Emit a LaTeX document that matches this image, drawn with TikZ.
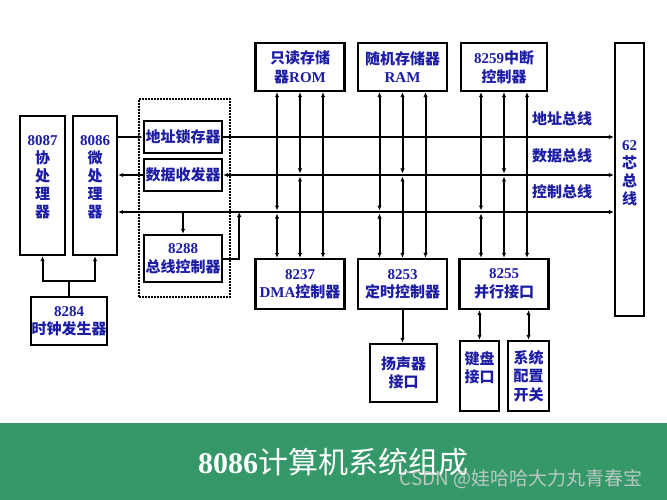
\documentclass[tikz,border=0pt]{standalone}
\usepackage{fontspec}
\setmainfont{Noto Sans CJK SC}
\newfontfamily\lat{Liberation Serif}
\usetikzlibrary{arrows.meta,calc}
\definecolor{txtblue}{RGB}{28,28,165}
\definecolor{band}{RGB}{52,152,104}
\tikzset{
  box/.style={draw=black, line width=2.4pt, fill=white, text=txtblue, align=center,
    inner sep=0pt, font=\bfseries\fontsize{15}{18.5}\selectfont},
  btext/.style={text=txtblue, align=center, inner sep=0pt, font=\bfseries\fontsize{15}{18}\selectfont},
  wire/.style={line width=2pt, draw=black},
  grp/.style={draw=black, line width=1.6pt, dash pattern=on 1.6pt off 1.4pt, inner sep=0pt},
}
\begin{document}
\begin{tikzpicture}[x=1pt,y=-1pt,>={Latex[length=5pt,width=4.5pt]}]
\useasboundingbox (0,0) rectangle (667,500);
\fill[band] (0,423) rectangle (667,500);

% dotted group
\node[grp, minimum width=91pt, minimum height=198pt] (group) at (184.5,198) {};

% processors
\node[box, minimum width=45pt, minimum height=139pt] (cop) at (42.5,185.5) {};
\node[btext] (coptxt) at (42.5,177.5) {{\lat 8087}\\协\\处\\理\\器};
\node[box, minimum width=44pt, minimum height=139pt] (cpu) at (95,185.5) {};
\node[btext] (cputxt) at (95,177.5) {{\lat 8086}\\微\\处\\理\\器};
\node[box, minimum width=76pt, minimum height=48pt] (clk) at (69,321) {{\lat 8284}\\时钟发生器};

% group contents
\node[box, minimum width=78pt, minimum height=32pt] (latch) at (183,137) {地址锁存器};
\node[box, minimum width=78pt, minimum height=32pt] (trans) at (183,175) {数据收发器};
\node[box, minimum width=78pt, minimum height=47pt] (bctl) at (183,258.5) {{\lat 8288}\\总线控制器};

% upper devices
\node[box, minimum width=89pt, minimum height=48pt] (rom) at (300,67) {只读存储\\器{\lat ROM}};
\node[box, minimum width=89pt, minimum height=48pt] (ram) at (402.5,67) {随机存储器\\{\lat RAM}};
\node[box, minimum width=86pt, minimum height=48pt] (pic) at (504,67) {{\lat 8259}中断\\控制器};

% lower devices
\node[box, minimum width=89pt, minimum height=50pt] (dma) at (300,284) {{\lat 8237}\\{\lat DMA}控制器};
\node[box, minimum width=89pt, minimum height=50pt] (tmr) at (402.5,284) {{\lat 8253}\\定时控制器};
\node[box, minimum width=89pt, minimum height=50pt] (ppi) at (504,284) {{\lat 8255}\\并行接口};

\node[box, minimum width=67pt, minimum height=58pt] (spk) at (403.5,373) {扬声器\\接口};
\node[box, minimum width=39pt, minimum height=70pt] (kbd) at (479.5,376) {};
\node[btext] (kbdtxt) at (479.5,368) {键盘\\接口};
\node[box, minimum width=41pt, minimum height=70pt] (sw) at (528.5,376) {系统\\配置\\开关};

% 62-pin bus
\node[box, minimum width=29pt, minimum height=273pt] (bus) at (629.5,179.5) {};
\node[btext] (bustxt) at (629.5,173) {{\lat 62}\\芯\\总\\线};

% bus labels
\node[btext] (la) at (562,119) {地址总线};
\node[btext] (ld) at (562,156) {数据总线};
\node[btext] (lc) at (562,192) {控制总线};

\coordinate (ctl) at (0,212);

% buses
\draw[wire,->] (cpu.east |- latch.west) -- (latch.west);
\draw[wire,->] (latch.east) -- (latch.east -| bus.west);
\draw[wire,->] (trans.west) -- (trans.west -| cpu.east);
\draw[wire,<->] (trans.east) -- (trans.east -| bus.west);
\draw[wire,<->] (cpu.east |- ctl) -- (bus.west |- ctl);
\draw[wire,->] (bctl.north |- ctl) -- (bctl.north);
\draw[wire,->] (bctl.east) -- ++(16,0) coordinate (bo) -- (bo |- ctl);

% clock
\draw[wire] (clk.north) -- ++(0,-15) coordinate (cj);
\draw[wire,->] (cj) -| (cop.south);
\draw[wire,->] (cj) -| (cpu.south);

% vertical links
\foreach \u/\l in {rom/dma, ram/tmr, pic/ppi}{
  \draw[wire,<->] ($(\u.south)+(-23,0)$) -- ($(\u.south |- ctl)+(-23,-1.5)$);
  \draw[wire,<->] ($(\u.south |- ctl)+(-23,1.5)$) -- ($(\l.north)+(-23,0)$);
  \draw[wire,<->] (\u.south) -- ($(\u.south |- trans.east)+(0,-1.5)$);
  \draw[wire,<->] ($(\u.south |- trans.east)+(0,1.5)$) -- (\l.north);
  \draw[wire,<->] ($(\u.south)+(23,0)$) -- ($(\l.north)+(23,0)$);
}

% peripherals
\draw[wire,->] (tmr.south) -- (tmr.south |- spk.north);
\draw[wire,<->] (ppi.south -| kbd.north) -- (kbd.north);
\draw[wire,<->] (ppi.south -| sw.north) -- (sw.north);

% title and watermark
\node[text=white, inner sep=0pt, font=\fontsize{30}{34}\selectfont] (title) at (333,462) {{\lat\bfseries 8086}计算机系统组成};
\node[text=white!82!black, opacity=0.85, inner sep=0pt, font=\fontsize{19}{22}\selectfont] (wm) at (521,479) {CSDN @娃哈哈大力丸青春宝};
\end{tikzpicture}
\end{document}
